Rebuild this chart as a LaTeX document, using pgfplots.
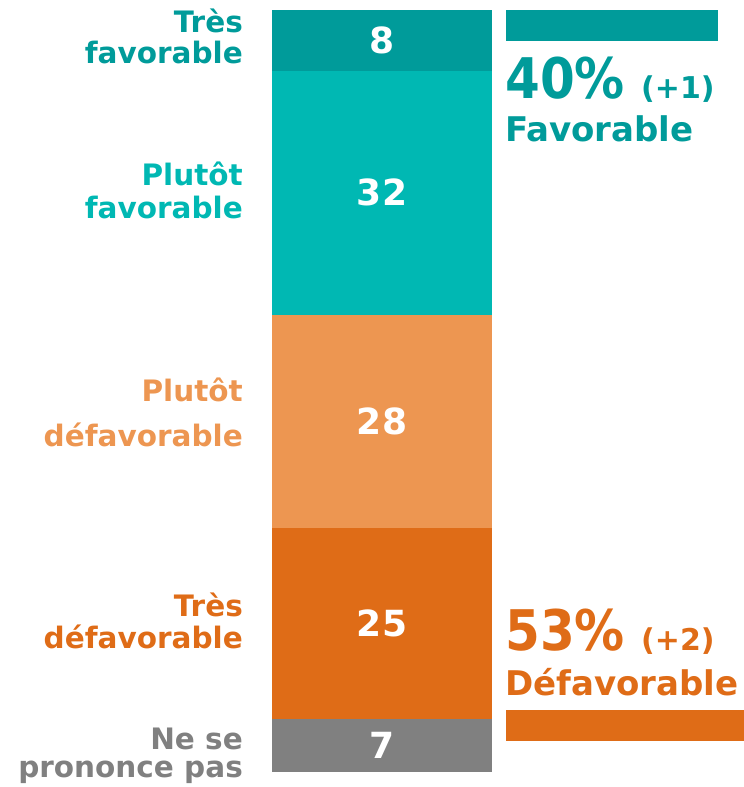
\documentclass[border=0pt]{standalone}
\usepackage{fontspec}
\setmainfont{DejaVu Sans}
\usepackage{pgfplots}
\pgfplotsset{compat=1.18}

\definecolor{tdark}{HTML}{009B9A}
\definecolor{teal2}{HTML}{00B8B3}
\definecolor{lorange}{HTML}{ED9651}
\definecolor{dorange}{HTML}{DF6C17}
\definecolor{ngray}{HTML}{808080}

% 1 px = 1 pt, 1 % = 7.62 pt
\newcommand{\lab}[1]{\fontsize{29.5}{31}\selectfont\bfseries #1}
\pgfplotsset{frame/.style={
    scale only axis,
    width=744pt, height=787pt,
    xmin=0, xmax=744,
    ymin=-1.9685, ymax=101.3123,
    axis lines=none,
    clip=false}}

\begin{document}
\begin{tikzpicture}
\begin{axis}[
    frame,
    ybar stacked,
    bar width=220,
    point meta=explicit symbolic,
    nodes near coords,
    every node near coord/.append style={anchor=center, text=white,
        font=\fontsize{36}{36}\selectfont\bfseries},
]
\addplot[fill=ngray, draw=none]   coordinates {(382,7) [7]};
\addplot[fill=dorange, draw=none] coordinates {(382,25) [25]};
\addplot[fill=lorange, draw=none] coordinates {(382,28) [28]};
\addplot[fill=teal2, draw=none]   coordinates {(382,32) [32]};
\addplot[fill=tdark, draw=none]   coordinates {(382,8) [8]};

% category labels
\node[anchor=base east, text=tdark, inner sep=0pt] at (axis cs:243,97.11) {\lab{Très}};
\node[anchor=base east, text=tdark, inner sep=0pt] at (axis cs:243,93.04) {\lab{favorable}};
\node[anchor=base east, text=teal2, inner sep=0pt] at (axis cs:243,77.03) {\lab{Plutôt}};
\node[anchor=base east, text=teal2, inner sep=0pt] at (axis cs:243,72.70) {\lab{favorable}};
\node[anchor=base east, text=lorange, inner sep=0pt] at (axis cs:243,48.56) {\lab{Plutôt}};
\node[anchor=base east, text=lorange, inner sep=0pt] at (axis cs:243,42.78) {\lab{défavorable}};
\node[anchor=base east, text=dorange, inner sep=0pt] at (axis cs:243,20.47) {\lab{Très}};
\node[anchor=base east, text=dorange, inner sep=0pt] at (axis cs:243,16.27) {\lab{défavorable}};
\node[anchor=base east, text=ngray, inner sep=0pt] at (axis cs:243,2.89) {\lab{Ne se}};
\node[anchor=base east, text=ngray, inner sep=0pt] at (axis cs:243,-0.66) {\lab{prononce pas}};

\coordinate (bl) at (rel axis cs:0,0);
\coordinate (tr) at (rel axis cs:1,1);
\end{axis}

\begin{axis}[frame]
% side bars
\addplot[fill=tdark, draw=none]
    coordinates {(506,95.93) (718,95.93) (718,100) (506,100)} -- cycle;
\addplot[fill=dorange, draw=none]
    coordinates {(506,4.07) (744,4.07) (744,8.14) (506,8.14)} -- cycle;

% totals
\node[anchor=base west, text=tdark, inner sep=0pt] at (axis cs:505,88.45)
    {\fontsize{50}{50}\selectfont\bfseries\scalebox{1}[1.12]{40\%}};
\node[anchor=base west, text=tdark, inner sep=0pt] at (axis cs:641,88.45)
    {\fontsize{30}{30}\selectfont\bfseries (+1)};
\node[anchor=base west, text=tdark, inner sep=0pt] at (axis cs:505,82.68)
    {\fontsize{34}{34}\selectfont\bfseries Favorable};
\node[anchor=base west, text=dorange, inner sep=0pt] at (axis cs:505,16.01)
    {\fontsize{50}{50}\selectfont\bfseries\scalebox{1}[1.12]{53\%}};
\node[anchor=base west, text=dorange, inner sep=0pt] at (axis cs:641,16.01)
    {\fontsize{30}{30}\selectfont\bfseries (+2)};
\node[anchor=base west, text=dorange, inner sep=0pt] at (axis cs:505,10.10)
    {\fontsize{34}{34}\selectfont\bfseries Défavorable};
\end{axis}
\pgfresetboundingbox
\path (bl) rectangle (tr);
\end{tikzpicture}
\end{document}
